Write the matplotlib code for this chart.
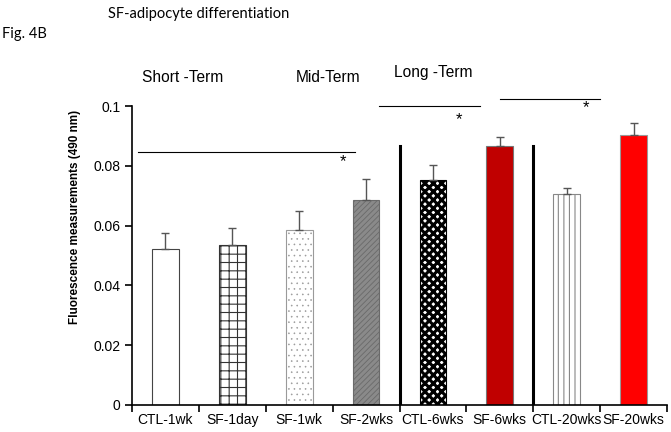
import matplotlib
matplotlib.use("Agg")
import matplotlib.pyplot as plt
import numpy as np

# dados
grupos = ["CTL-1wk", "SF-1day", "SF-1wk", "SF-2wks", "CTL-6wks", "SF-6wks", "CTL-20wks", "SF-20wks"]
medias = [0.0522, 0.0536, 0.0584, 0.0685, 0.0753, 0.0866, 0.0705, 0.0903]
erros = [0.0052, 0.0055, 0.0064, 0.0071, 0.0049, 0.0031, 0.0022, 0.0041]
cores = ["white", "white", "white", "#8a8a8a", "white", "#c00000", "white", "#ff0000"]
hachuras = [None, "++", "...", "//////", "xxxx", None, "|||", None]
bordas = ["#444444", "#333333", "#9a9a9a", "#6a6a6a", "black", "#777777", "#888888", "#999999"]
espessura_hachura = [0.8, 0.8, 0.4, 0.6, 2.2, 0.8, 0.8, 0.8]

plt.rcParams["font.family"] = ["Liberation Sans", "DejaVu Sans"]

fig = plt.figure(figsize=(6.71, 4.32), dpi=100)
ax = fig.add_axes([132 / 671, 27 / 432, 535 / 671, 299 / 432])

x = np.arange(len(grupos))
for i in range(len(grupos)):
    with plt.rc_context({"hatch.linewidth": espessura_hachura[i]}):
        ax.bar(x[i], medias[i], width=0.4, color=cores[i], edgecolor=bordas[i],
               hatch=hachuras[i], linewidth=0.8, zorder=2)
ax.errorbar(x, medias, yerr=[np.zeros(len(erros)), erros], fmt="none",
            ecolor="#555555", elinewidth=1, capsize=3, capthick=1, zorder=3)

ax.set_xlim(-0.5, len(grupos) - 0.5)
ax.set_ylim(0, 0.1)
ax.set_yticks([0, 0.02, 0.04, 0.06, 0.08, 0.1])
ax.set_yticklabels(["0", "0.02", "0.04", "0.06", "0.08", "0.1"], fontsize=10)
ax.set_xticks(x)
ax.set_xticklabels(grupos, fontsize=10)
ax.set_xticks(np.arange(-0.5, len(grupos)), minor=True)
ax.tick_params(axis="x", which="major", length=0, pad=6)
ax.tick_params(axis="x", which="minor", length=5, width=1.2, direction="out")
ax.tick_params(axis="y", length=5, width=1.2, direction="out")
ax.spines["top"].set_visible(False)
ax.spines["right"].set_visible(False)
ax.spines["left"].set_linewidth(1.2)
ax.spines["bottom"].set_linewidth(1.2)
ax.set_ylabel("Fluorescence measurements (490 nm)", fontsize=8.5, fontweight="bold")
ax.yaxis.set_label_coords(-0.095, 0.63)

# separadores entre os periodos
for xs in [3.5, 5.5]:
    ax.plot([xs, xs], [0.0007, 0.0866], color="black", lw=2.2, zorder=3)

# linhas de significancia
ax.plot([-0.41, 2.84], [0.0845, 0.0845], color="black", lw=0.8, clip_on=False)
ax.text(2.65, 0.0815, "*", fontsize=12, ha="center", va="center")
ax.plot([3.19, 4.71], [0.1001, 0.1001], color="black", lw=0.8, clip_on=False)
ax.text(4.39, 0.0955, "*", fontsize=12, ha="center", va="center")
ax.plot([5.01, 6.50], [0.1022, 0.1022], color="black", lw=0.8, clip_on=False)
ax.text(6.29, 0.0995, "*", fontsize=12, ha="center", va="center")

fig.text(108 / 671, 1 - 14 / 432, "SF-adipocyte differentiation", fontsize=10.5,
         family=["Lato", "DejaVu Sans"], va="center")
fig.text(2 / 671, 1 - 34 / 432, "Fig. 4B", fontsize=10.5,
         family=["Lato", "DejaVu Sans"], va="center")
fig.text(183 / 671, 1 - 77 / 432, "Short -Term", fontsize=11.2, ha="center", va="center")
fig.text(328 / 671, 1 - 77 / 432, "Mid-Term", fontsize=11.2, ha="center", va="center")
fig.text(433 / 671, 1 - 72 / 432, "Long -Term", fontsize=11.2, ha="center", va="center")

fig.savefig("out.png", dpi=100)
